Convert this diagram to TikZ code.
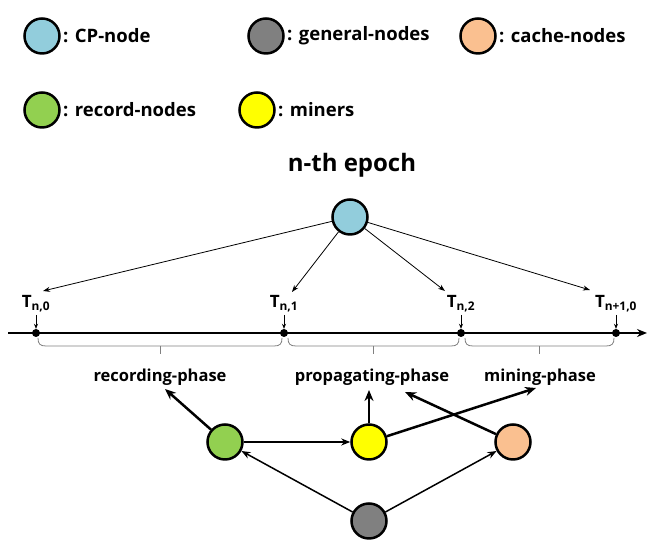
\documentclass[tikz,border=0pt]{standalone}
\usepackage{fontspec}
\setmainfont{Open Sans}
\usetikzlibrary{arrows.meta}
\definecolor{cpblue}{HTML}{92CDDC}
\definecolor{gen}{HTML}{808080}
\definecolor{cache}{HTML}{FAC090}
\definecolor{rec}{HTML}{92D050}
\definecolor{mine}{HTML}{FFFF00}
\definecolor{brc}{HTML}{808080}
\begin{document}
\begin{tikzpicture}[x=1pt,y=1pt,
  nd/.style={circle,draw=black,line width=2.5pt,minimum size=35pt,inner sep=0pt},
  lg/.style={anchor=west,font=\bfseries\fontsize{18.5}{22}\selectfont,inner sep=0pt},
  tl/.style={anchor=base,font=\bfseries\fontsize{17}{20}\selectfont,inner sep=0pt},
  ph/.style={font=\bfseries\fontsize{16.5}{20}\selectfont,inner sep=1pt},
  dot/.style={circle,fill=black,minimum size=8pt,inner sep=0pt},
  thin/.style={-{Stealth[length=7pt,width=5pt]},line width=0.8pt},
  mid/.style={-{Stealth[length=9pt,width=7pt]},line width=1.5pt},
  thick/.style={-{Stealth[length=11pt,width=9pt]},line width=2.5pt},
  brace/.style={draw=brc,line width=0.8pt}]
\useasboundingbox (0,0) rectangle (649,545);
% legend
\node[nd,fill=cpblue] (lcp) at (42,509) {};
\node[lg] (tcp) at (63,509) {: CP-node};
\node[nd,fill=gen] (lgen) at (266,509) {};
\node[lg] (tgen) at (287,509) {: general-nodes};
\node[nd,fill=cache] (lcache) at (478,509) {};
\node[lg] (tcache) at (499,509) {: cache-nodes};
\node[nd,fill=rec] (lrec) at (42,435) {};
\node[lg] (trec) at (63,435) {: record-nodes};
\node[nd,fill=mine] (lmine) at (257,435) {};
\node[lg] (tmine) at (278,435) {: miners};
% epoch
\node[font=\bfseries\fontsize{24}{28}\selectfont] (epoch) at (352,380) {n-th epoch};
\node[nd,fill=cpblue] (cp) at (350,328) {};
% timeline
\coordinate (ls) at (8,212);
\coordinate (le) at (647,212);
\draw[line width=1.6pt,-{Stealth[length=10pt,width=8pt]}] (ls) -- (le);
\node[dot] (d0) at (36,212) {};
\node[dot] (d1) at (284,212) {};
\node[dot] (d2) at (461,212) {};
\node[dot] (d3) at (616,212) {};
\node[tl] (t0) at (36,237) {T\textsubscript{n,0}};
\node[tl] (t1) at (284,237) {T\textsubscript{n,1}};
\node[tl] (t2) at (461,237) {T\textsubscript{n,2}};
\node[tl] (t3) at (616,237) {T\textsubscript{n+1,0}};
\coordinate (s0) at (36,230);
\coordinate (s1) at (284,230);
\coordinate (s2) at (461,230);
\coordinate (s3) at (616,230);
\draw[-{Stealth[length=5pt,width=4pt]},line width=0.6pt] (s0) -- (d0.north);
\draw[-{Stealth[length=5pt,width=4pt]},line width=0.6pt] (s1) -- (d1.north);
\draw[-{Stealth[length=5pt,width=4pt]},line width=0.6pt] (s2) -- (d2.north);
\draw[-{Stealth[length=5pt,width=4pt]},line width=0.6pt] (s3) -- (d3.north);
% CP arrows
\coordinate (e0) at (43,254);
\coordinate (e1) at (292,253);
\coordinate (e2) at (445,254);
\coordinate (e3) at (590,255);
\draw[thin] (cp) -- (e0);
\draw[thin] (cp) -- (e1);
\draw[thin] (cp) -- (e2);
\draw[thin] (cp) -- (e3);
% braces
\foreach \a/\b in {38/282,288/459,465/614}{
  \draw[brace] (\a,207) .. controls (\a,201) and (\a+2,199) .. (\a+8,199) -- (\b-8,199) .. controls (\b-2,199) and (\b,201) .. (\b,207);
  \draw[brace] ({(\a+\b)/2},199) -- ({(\a+\b)/2},191);
}
\node[ph] (prec) at (160,168) {recording-phase};
\node[ph] (pprop) at (372,168) {propagating-phase};
\node[ph] (pmine) at (540,168) {mining-phase};
% lower nodes
\node[nd,fill=rec] (nrec) at (225,103) {};
\node[nd,fill=mine] (nmine) at (369,103) {};
\node[nd,fill=cache] (ncache) at (513,103) {};
\node[nd,fill=gen] (ngen) at (369,24) {};
\coordinate (a1) at (165,156);
\coordinate (a2) at (369,155);
\coordinate (a3) at (405,153);
\coordinate (a4) at (536,157);
\draw[thick] (nrec) -- (a1);
\draw[thick] (nmine) -- (a2);
\draw[thick] (ncache) -- (a3);
\draw[thick] (nmine) -- (a4);
\draw[mid] (nrec) -- (nmine);
\draw[mid] (ngen) -- (nrec);
\draw[mid] (ngen) -- (ncache);
\end{tikzpicture}
\end{document}
